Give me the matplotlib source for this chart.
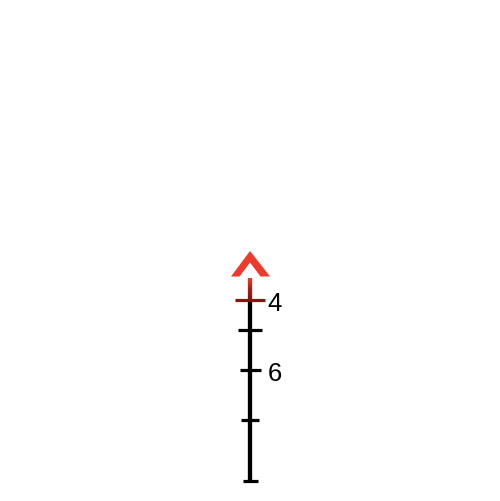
import numpy as np
import matplotlib.pyplot as plt
from matplotlib.collections import LineCollection
from matplotlib.colors import LinearSegmentedColormap

# holdover marks: range (hundreds) and drop below the aim point
ranges = [4, 5, 6, 7, 8]
drops = [5.0, 8.0, 12.0, 17.0, 23.1]
labels = ["4", "", "6", "", ""]
tick_half = [1.5, 1.2, 1.05, 0.9, 0.75]

# chevron aim point
chev_x = [0, 2.0, 1.05, 0, -1.05, -1.9]
chev_y = [0.1, 2.65, 2.65, 1.25, 2.65, 2.65]

red = "#EE3A2A"
dark_red = "#8A1510"

fig = plt.figure(figsize=(5, 5.01), dpi=100)
ax = fig.add_axes([0, 0, 1, 1])
ax.set_xlim(-25, 25)
ax.set_ylim(25.1, -25.0)
ax.axis("off")

ax.fill(chev_x, chev_y, color=red, lw=0)

# red fading stem from chevron to first mark
stem_y = np.linspace(2.8, drops[0], 30)
segs = [[(0, a), (0, b)] for a, b in zip(stem_y[:-1], stem_y[1:])]
cmap = LinearSegmentedColormap.from_list("stem", [red, "#A81C14", dark_red])
lc = LineCollection(segs, colors=cmap(np.linspace(0, 1, len(segs))), linewidths=3.1,
                    capstyle="butt")
ax.add_collection(lc)

# black main post
ax.plot([0, 0], [drops[0] + 0.15, drops[-1] + 0.15], color="black", lw=3.1,
        solid_capstyle="butt")

for i, (d, lab, hw) in enumerate(zip(drops, labels, tick_half)):
    c = dark_red if i == 0 else "black"
    ax.plot([-hw, hw], [d, d], color=c, lw=2.3, solid_capstyle="butt")
    if lab:
        ax.text(1.75, d + 0.15, lab, ha="left", va="center_baseline", fontsize=18.5,
                family="Liberation Sans", color="black")

fig.savefig("out.png", dpi=100)
